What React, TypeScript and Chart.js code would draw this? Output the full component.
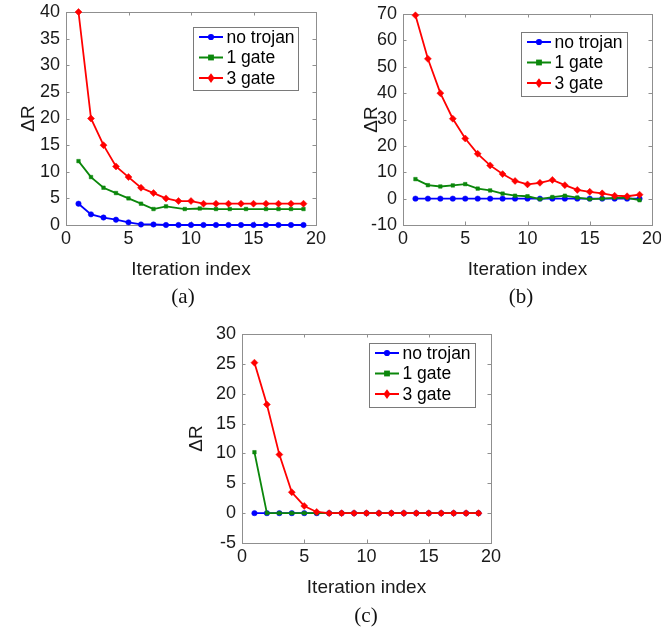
import React, { useEffect, useRef } from 'react';
import { Chart, registerables } from 'chart.js';

Chart.register(...registerables);

// ---------- data ----------
const iterations = [1, 2, 3, 4, 5, 6, 7, 8, 9, 10, 11, 12, 13, 14, 15, 16, 17, 18, 19];
const legendLabels = ['no trojan', '1 gate', '3 gate'];
const xTickTitle = 'Iteration index';
const yTickTitle = 'ΔR';

// panel (a)
const aNoTrojan = [4, 2, 1.4, 1.0, 0.5, 0.1, 0.1, 0, 0, 0, 0, 0, 0, 0, 0, 0, 0, 0, 0];
const aOneGateX = [1, 2, 3, 4, 5, 6, 7, 8, 9.5, 10.7, 12, 13.1, 14.4, 16, 17, 18, 19];
const aOneGate = [12, 9, 7, 6, 5, 4, 3, 3.5, 3, 3.1, 3, 3, 3, 3, 3, 3, 3];
const aThreeGate = [40, 20, 15, 11, 9, 7, 6, 5, 4.5, 4.5, 4, 4, 4, 4, 4, 4, 4, 4, 4];

// panel (b)
const bNoTrojan = [0, 0, 0, 0, 0, 0, 0, 0, 0, 0, 0, 0, 0, 0, 0, 0, 0, 0, 0];
const bOneGate = [7.4, 5.1, 4.6, 5.0, 5.5, 3.8, 3.1, 1.9, 1.1, 0.9, -0.2, 0.6, 1.1, 0.4, -0.2, 0, 0.3, 0.3, -0.6];
const bThreeGate = [69.5, 53, 40, 30.3, 22.8, 17, 12.6, 9.3, 6.7, 5.4, 6, 7.1, 5.1, 3.3, 2.6, 2, 1.1, 0.9, 1.5];

// panel (c)
const cNoTrojan = [0, 0, 0, 0, 0, 0, 0, 0, 0, 0, 0, 0, 0, 0, 0, 0, 0, 0, 0];
const cOneGate = [10.2, 0, 0, 0, 0, 0, 0, 0, 0, 0, 0, 0, 0, 0, 0, 0, 0, 0, 0];
const cThreeGate = [25.2, 18.2, 9.8, 3.5, 1.2, 0.2, 0, 0, 0, 0, 0, 0, 0, 0, 0, 0, 0, 0, 0];

// ---------- styling ----------
const BLUE = '#0000ff';
const GREEN = '#0b870b';
const RED = '#ff0000';
const FRAME = '#8f8f8f';
const TEXT = '#1a1a1a';
const SANS = '"Liberation Sans", Arial, Helvetica, sans-serif';
const SERIF = '"Liberation Serif", "Times New Roman", serif';

type Style = 'circle' | 'rect' | 'rectRot';

interface PanelCfg {
  caption: string;
  captionX: number;
  captionY: number;
  left: number;
  top: number;
  width: number;
  height: number;
  areaLeft: number;
  areaTop: number;
  areaRight: number;
  xAxisHeight: number;
  yTitleX: number;
  yMin: number;
  yMax: number;
  yStep: number;
  legendRight: number;
  legendTop: number;
  legendW: number;
  legendH: number;
  series: { label: string; xs: number[]; ys: number[]; color: string; style: Style; r: number; order: number }[];
}

function makeSeries(blue: number[], greenX: number[], green: number[], red: number[]) {
  return [
    { label: legendLabels[0], xs: iterations, ys: blue, color: BLUE, style: 'circle' as Style, r: 2.7, order: 2 },
    { label: legendLabels[1], xs: greenX, ys: green, color: GREEN, style: 'rect' as Style, r: 2.5, order: 1 },
    { label: legendLabels[2], xs: iterations, ys: red, color: RED, style: 'rectRot' as Style, r: 3.5, order: 0 },
  ];
}

const panels: PanelCfg[] = [
  {
    caption: '(a)', captionX: 183, captionY: 296,
    left: 0, top: 0, width: 330, height: 285,
    areaLeft: 66, areaTop: 12, areaRight: 316, xAxisHeight: 60,
    yTitleX: 29,
    yMin: 0, yMax: 40, yStep: 5,
    legendRight: 18, legendTop: 15, legendW: 105, legendH: 63,
    series: makeSeries(aNoTrojan, aOneGateX, aOneGate, aThreeGate),
  },
  {
    caption: '(b)', captionX: 521, captionY: 296,
    left: 331, top: 0, width: 330, height: 285,
    areaLeft: 72, areaTop: 14, areaRight: 321, xAxisHeight: 60,
    yTitleX: 41,
    yMin: -10, yMax: 70, yStep: 10,
    legendRight: 25, legendTop: 18, legendW: 106, legendH: 64,
    series: makeSeries(bNoTrojan, iterations, bOneGate, bThreeGate),
  },
  {
    caption: '(c)', captionX: 366, captionY: 615,
    left: 180, top: 320, width: 330, height: 283,
    areaLeft: 62, areaTop: 14, areaRight: 311, xAxisHeight: 60,
    yTitleX: 17,
    yMin: -5, yMax: 30, yStep: 5,
    legendRight: 16, legendTop: 9, legendW: 106, legendH: 64,
    series: makeSeries(cNoTrojan, iterations, cOneGate, cThreeGate),
  },
];

function drawMarker(ctx: CanvasRenderingContext2D, style: Style, x: number, y: number, r: number, color: string) {
  ctx.save();
  ctx.fillStyle = color;
  ctx.beginPath();
  if (style === 'circle') {
    ctx.arc(x, y, r, 0, Math.PI * 2);
  } else if (style === 'rect') {
    ctx.rect(x - r, y - r, r * 2, r * 2);
  } else {
    ctx.moveTo(x, y - r * 1.25);
    ctx.lineTo(x + r * 0.9, y);
    ctx.lineTo(x, y + r * 1.25);
    ctx.lineTo(x - r * 0.9, y);
    ctx.closePath();
  }
  ctx.fill();
  ctx.restore();
}

function makeFramePlugin(cfg: PanelCfg) {
  return {
    id: 'matlabFrame',
    beforeDatasetsDraw(chart: any) {
      const { ctx, chartArea } = chart;
      const { left, top, right, bottom } = chartArea;
      ctx.save();
      ctx.strokeStyle = FRAME;
      ctx.lineWidth = 1;
      ctx.strokeRect(Math.round(left) + 0.5, Math.round(top) + 0.5, Math.round(right - left), Math.round(bottom - top));
      const tl = 3.5;
      const xs = chart.scales.x;
      const ys = chart.scales.y;
      ctx.beginPath();
      xs.ticks.forEach((t: any) => {
        const px = Math.round(xs.getPixelForValue(t.value)) + 0.5;
        ctx.moveTo(px, bottom);
        ctx.lineTo(px, bottom - tl);
        ctx.moveTo(px, top);
        ctx.lineTo(px, top + tl);
      });
      ys.ticks.forEach((t: any) => {
        const py = Math.round(ys.getPixelForValue(t.value)) + 0.5;
        ctx.moveTo(left, py);
        ctx.lineTo(left + tl, py);
        ctx.moveTo(right, py);
        ctx.lineTo(right - tl, py);
      });
      ctx.stroke();
      ctx.restore();
    },
    afterDraw(chart: any) {
      const { ctx, chartArea } = chart;
      const bx = Math.round(chartArea.right - cfg.legendRight - cfg.legendW) + 0.5;
      const by = Math.round(chartArea.top + cfg.legendTop) + 0.5;
      ctx.save();
      ctx.fillStyle = '#ffffff';
      ctx.fillRect(bx, by, cfg.legendW, cfg.legendH);
      ctx.strokeStyle = '#7a7a7a';
      ctx.lineWidth = 1;
      ctx.strokeRect(bx, by, cfg.legendW, cfg.legendH);
      ctx.font = `17.5px ${SANS}`;
      ctx.textBaseline = 'middle';
      ctx.textAlign = 'left';
      cfg.series.forEach((s, i) => {
        const ry = by + 9.5 + i * 20.5;
        ctx.strokeStyle = s.color;
        ctx.lineWidth = 2;
        ctx.beginPath();
        ctx.moveTo(bx + 5.5, ry);
        ctx.lineTo(bx + 29.5, ry);
        ctx.stroke();
        drawMarker(ctx, s.style, bx + 17.5, ry, s.r + 0.4, s.color);
        ctx.fillStyle = '#000000';
        ctx.fillText(s.label, bx + 33, ry + 1);
      });
      ctx.restore();
    },
  };
}

function buildConfig(cfg: PanelCfg): any {
  const lineHeight = 19 * 1.2;
  return {
    type: 'line',
    data: {
      datasets: cfg.series.map((s) => ({
        label: s.label,
        data: s.xs.map((x, i) => ({ x, y: s.ys[i] })),
        borderColor: s.color,
        backgroundColor: s.color,
        borderWidth: 1.8,
        pointStyle: s.style,
        pointRadius: s.r,
        pointBorderWidth: 0.5,
        pointBorderColor: s.color,
        pointBackgroundColor: s.color,
        tension: 0,
        order: s.order,
        clip: false,
        fill: false,
      })),
    },
    options: {
      animation: false,
      responsive: false,
      devicePixelRatio: 1,
      events: [],
      layout: {
        padding: {
          left: 0,
          top: cfg.areaTop,
          right: cfg.width - cfg.areaRight,
          bottom: 0,
        },
      },
      plugins: {
        legend: { display: false },
        tooltip: { enabled: false },
        title: { display: false },
      },
      scales: {
        x: {
          type: 'linear',
          min: 0,
          max: 20,
          grid: { display: false, drawTicks: false },
          border: { display: false },
          ticks: {
            stepSize: 5,
            padding: 3,
            color: TEXT,
            font: { family: SANS, size: 18 },
            maxRotation: 0,
          },
          title: {
            display: true,
            text: xTickTitle,
            color: TEXT,
            font: { family: SANS, size: 19 },
            padding: { top: 0, bottom: 15 - lineHeight / 2 },
          },
          afterFit(scale: any) {
            scale.height = cfg.xAxisHeight;
            scale.paddingLeft = 0;
            scale.paddingRight = 0;
          },
        },
        y: {
          type: 'linear',
          min: cfg.yMin,
          max: cfg.yMax,
          grid: { display: false, drawTicks: false },
          border: { display: false },
          ticks: {
            stepSize: cfg.yStep,
            padding: 6,
            color: TEXT,
            font: { family: SANS, size: 18 },
          },
          title: {
            display: true,
            text: yTickTitle,
            color: TEXT,
            font: { family: SANS, size: 19 },
            padding: { top: cfg.yTitleX - lineHeight / 2, bottom: 0 },
          },
          afterFit(scale: any) {
            scale.width = cfg.areaLeft;
            scale.paddingTop = 0;
            scale.paddingBottom = 0;
          },
        },
      },
    },
    plugins: [makeFramePlugin(cfg)],
  };
}

function PanelChart({ cfg }: { cfg: PanelCfg }) {
  const ref = useRef<HTMLCanvasElement>(null);
  useEffect(() => {
    if (!ref.current) return;
    const chart = new Chart(ref.current, buildConfig(cfg));
    return () => chart.destroy();
  }, [cfg]);
  return (
    <>
      <canvas
        ref={ref}
        width={cfg.width}
        height={cfg.height}
        style={{ position: 'absolute', left: cfg.left, top: cfg.top, width: cfg.width, height: cfg.height }}
      />
      <div
        style={{
          position: 'absolute',
          left: cfg.captionX,
          top: cfg.captionY,
          transform: 'translate(-50%, -50%)',
          fontFamily: SERIF,
          fontSize: 21,
          lineHeight: 1,
          color: '#111',
          whiteSpace: 'nowrap',
        }}
      >
        {cfg.caption}
      </div>
    </>
  );
}

export default function App() {
  return (
    <div style={{ position: 'absolute', left: 0, top: 0, width: 661, height: 631, background: '#ffffff', overflow: 'hidden' }}>
      {panels.map((p) => (
        <PanelChart key={p.caption} cfg={p} />
      ))}
    </div>
  );
}
